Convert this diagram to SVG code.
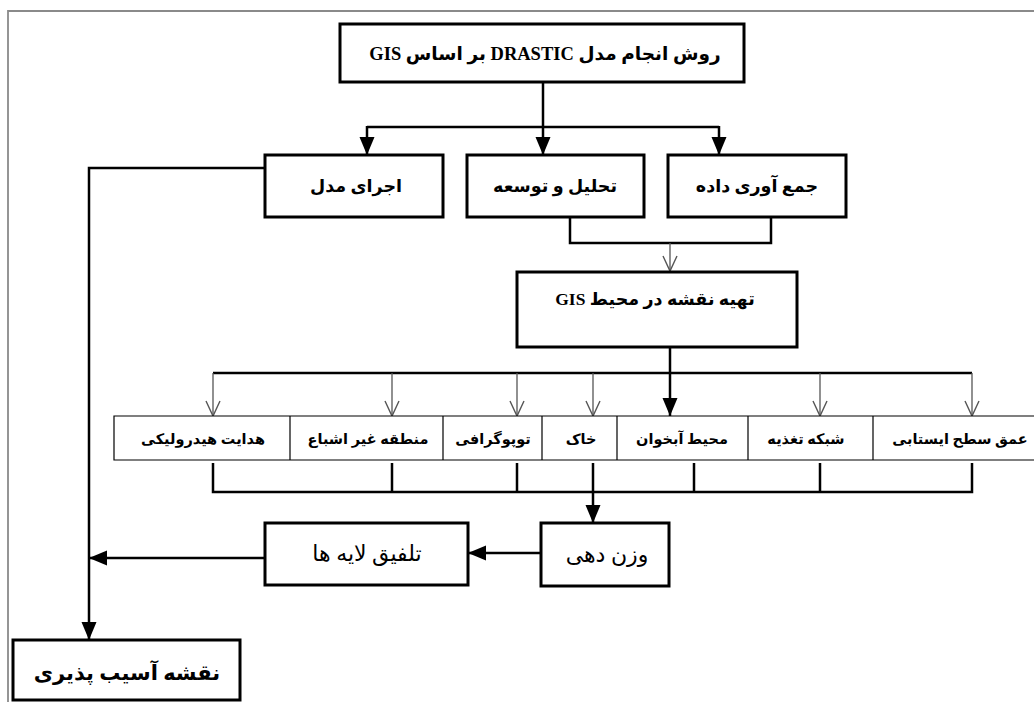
<svg xmlns="http://www.w3.org/2000/svg" width="1034" height="702" viewBox="0 0 1034 702">
<style>
.bx{fill:#fff;stroke:#000;stroke-width:3}
.cell{fill:#fff;stroke:#000;stroke-width:1.2}
.ln{fill:none;stroke:#000;stroke-width:2.5}
.thin{fill:none;stroke:#555;stroke-width:1.3}
.t{font-family:"Liberation Serif","DejaVu Sans",serif;fill:#000;text-anchor:middle;direction:rtl}
.b{font-weight:bold}
.lay{font-size:14.5px;font-weight:bold}
</style>
<defs>
<marker id="af" markerUnits="userSpaceOnUse" markerWidth="18" markerHeight="16" refX="18" refY="8" orient="auto">
<path d="M0,0.5 L18,8 L0,15.5 z" fill="#000"/>
</marker>
<marker id="ao" markerUnits="userSpaceOnUse" markerWidth="18" markerHeight="16" refX="16" refY="8" orient="auto">
<path d="M1,1 L16,8 L1,15" fill="none" stroke="#555" stroke-width="1.4"/>
</marker>
</defs>
<rect width="1034" height="702" fill="#fff"/>
<path d="M8,702 V11 H1034" fill="none" stroke="#8a8a8a" stroke-width="1.8"/>

<g id="connectors">
<path class="ln" d="M543,82 V155" marker-end="url(#af)"/>
<path class="ln" d="M367,127 H719"/>
<path class="ln" d="M367,126 V155" marker-end="url(#af)"/>
<path class="ln" d="M719,126 V155" marker-end="url(#af)"/>
<path class="ln" d="M265,168 H89 V640" marker-end="url(#af)"/>
<path class="ln" d="M570,217 V243 H771 V217"/>
<path class="thin" d="M670,243 V271" marker-end="url(#ao)"/>
<path class="ln" d="M670,347 V416" marker-end="url(#af)"/>
<path class="ln" d="M213,373 H972"/>
<path class="thin" d="M213,373 V416" marker-end="url(#ao)"/>
<path class="thin" d="M392,373 V416" marker-end="url(#ao)"/>
<path class="thin" d="M517,373 V416" marker-end="url(#ao)"/>
<path class="thin" d="M593,373 V416" marker-end="url(#ao)"/>
<path class="thin" d="M820,373 V416" marker-end="url(#ao)"/>
<path class="thin" d="M972,373 V416" marker-end="url(#ao)"/>
<path class="ln" d="M213,463 V492 H972 V463"/>
<path class="ln" d="M392,463 V492 M517,463 V492 M694,463 V492 M820,463 V492"/>
<path class="ln" d="M593,463 V523" marker-end="url(#af)"/>
<path class="ln" d="M541,553 H468" marker-end="url(#af)"/>
<path class="ln" d="M265,558 H89" marker-end="url(#af)"/>
</g>

<g id="n-top">
<rect class="bx" x="340" y="24" width="404" height="58"/>
<text class="t b" x="545" y="60" font-size="18.5">روش انجام مدل DRASTIC بر اساس GIS</text>
</g>
<g id="n-run">
<rect class="bx" x="265" y="155" width="178" height="62"/>
<text class="t b" x="356" y="192" font-size="17.5">اجرای مدل</text>
</g>
<g id="n-analysis">
<rect class="bx" x="467" y="155" width="177" height="62"/>
<text class="t b" x="555" y="192" font-size="17.5">تحلیل و توسعه</text>
</g>
<g id="n-collect">
<rect class="bx" x="668" y="155" width="178" height="62"/>
<text class="t b" x="757" y="192" font-size="17.5">جمع آوری داده</text>
</g>
<g id="n-gis">
<rect class="bx" x="517" y="272" width="280" height="75"/>
<text class="t b" x="655" y="305" font-size="17.5">تهیه نقشه در محیط GIS</text>
</g>

<g id="n-layers">
<path class="cell" d="M1034,416 H114 V460 H1034 M290,416 V460 M443,416 V460 M542,416 V460 M617,416 V460 M748,416 V460 M873,416 V460"/>
</g>
<g id="n-hydraulic"><text class="t lay" x="203" y="444">هدایت هیدرولیکی</text></g>
<g id="n-vadose"><text class="t lay" x="368" y="444">منطقه غیر اشباع</text></g>
<g id="n-topo"><text class="t lay" x="493" y="444">توپوگرافی</text></g>
<g id="n-soil"><text class="t lay" x="581" y="444">خاک</text></g>
<g id="n-aquifer"><text class="t lay" x="682" y="444">محیط آبخوان</text></g>
<g id="n-recharge"><text class="t lay" x="806" y="444">شبکه تغذیه</text></g>
<g id="n-depth"><text class="t lay" x="960" y="444">عمق سطح ایستابی</text></g>

<g id="n-weight">
<rect class="bx" x="541" y="523" width="128" height="63"/>
<text class="t" x="607" y="562" font-size="22">وزن دهی</text>
</g>
<g id="n-overlay">
<rect class="bx" x="265" y="523" width="203" height="62"/>
<text class="t" x="367" y="561" font-size="22">تلفیق لایه ها</text>
</g>
<g id="n-vuln">
<rect class="bx" x="13" y="640" width="227" height="60"/>
<text class="t b" x="127" y="680" font-size="21">نقشه آسیب پذیری</text>
</g>
</svg>
